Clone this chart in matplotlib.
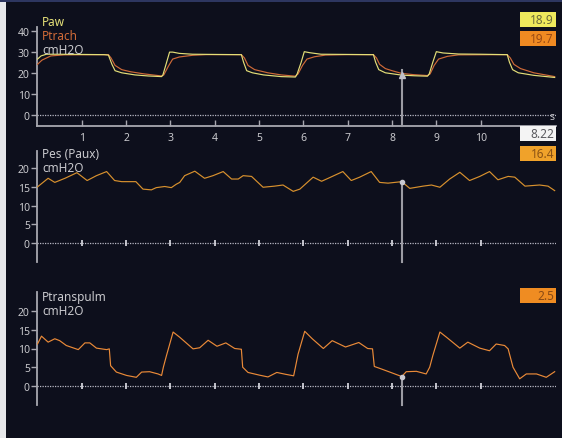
import matplotlib
matplotlib.use("Agg")
import matplotlib.pyplot as plt
from matplotlib.patches import Rectangle

plt.rcParams['font.family'] = ['Noto Sans', 'DejaVu Sans']

# ---- waveform samples (time in s, pressure in cmH2O) ----
paw_t = [0.0, 0.08, 0.2, 0.5, 1.0, 1.5, 1.6, 1.68, 1.75, 1.9, 2.2, 2.5, 2.8, 2.83, 2.9, 2.98, 3.05,
         3.2, 3.5, 4.0, 4.6, 4.65, 4.72, 4.85, 5.1, 5.5, 5.82, 5.86, 5.95, 6.02, 6.15, 6.4, 7.0,
         7.58, 7.63, 7.7, 7.85, 8.22, 8.5, 8.8, 8.84, 8.92, 9.0, 9.15, 9.5, 10.0, 10.6, 10.65,
         10.72, 10.85, 11.2, 11.67]
paw_v = [26.5, 28.0, 28.8, 28.8, 28.7, 28.6, 28.4, 24.0, 21.0, 20.0, 19.0, 18.5, 18.2, 19.0, 24.0,
         29.8, 29.8, 29.2, 28.8, 28.7, 28.6, 25.0, 21.0, 20.0, 19.0, 18.2, 18.0, 19.5, 25.0, 30.0,
         29.5, 28.8, 28.7, 28.6, 25.0, 21.5, 20.0, 18.9, 18.6, 18.4, 19.5, 25.0, 30.0, 29.4, 28.9,
         28.8, 28.6, 25.0, 21.5, 20.0, 18.8, 17.8]

ptrach_t = [0.0, 0.1, 0.3, 0.6, 1.6, 1.66, 1.75, 1.9, 2.1, 2.4, 2.8, 2.85, 2.95, 3.05, 3.2, 3.5,
            3.8, 4.6, 4.67, 4.75, 4.9, 5.2, 5.5, 5.82, 5.88, 5.98, 6.08, 6.25, 6.5, 7.0, 7.58,
            7.65, 7.72, 7.85, 8.0, 8.22, 8.5, 8.8, 8.86, 8.95, 9.05, 9.25, 9.5, 10.6, 10.67,
            10.75, 10.9, 11.2, 11.67]
ptrach_v = [24.0, 26.0, 28.0, 28.5, 28.6, 27.0, 23.5, 21.5, 20.5, 19.5, 18.5, 19.0, 23.0, 26.5,
            27.5, 28.3, 28.6, 28.6, 27.0, 23.5, 21.5, 20.0, 19.0, 18.4, 19.5, 23.5, 26.5, 27.6,
            28.4, 28.6, 28.6, 27.0, 24.0, 22.0, 21.0, 19.7, 19.1, 18.7, 19.5, 23.5, 26.5, 27.8,
            28.5, 28.6, 27.0, 24.0, 22.0, 20.0, 18.2]

pes_t = [0.0, 0.24, 0.39, 0.62, 0.89, 1.12, 1.33, 1.56, 1.74, 1.90, 2.22, 2.38, 2.57, 2.68, 2.87,
         3.02, 3.13, 3.21, 3.32, 3.55, 3.77, 3.96, 4.19, 4.38, 4.53, 4.64, 4.83, 5.09, 5.35, 5.54,
         5.77, 5.92, 6.22, 6.41, 6.56, 6.89, 7.08, 7.27, 7.53, 7.72, 7.91, 8.22, 8.40, 8.70,
         8.89, 9.08, 9.30, 9.53, 9.75, 9.98, 10.2, 10.39, 10.62, 10.77, 11.0, 11.33, 11.52, 11.67]
pes_v = [15.0, 17.3, 16.2, 17.3, 18.8, 16.7, 18.0, 19.1, 16.7, 16.4, 16.4, 14.4, 14.2, 14.8, 15.1,
         14.8, 15.7, 16.2, 18.0, 19.2, 17.3, 18.0, 19.1, 17.1, 17.1, 18.0, 17.8, 14.9, 15.2, 15.5,
         13.8, 14.4, 17.6, 16.5, 17.3, 19.1, 16.7, 17.6, 19.1, 16.2, 16.0, 16.4, 14.6, 15.2,
         15.5, 14.9, 17.1, 18.9, 16.7, 17.8, 19.1, 16.9, 17.8, 17.6, 15.2, 15.5, 15.2, 14.0]

ptp_t = [0.0, 0.09, 0.24, 0.39, 0.5, 0.65, 0.92, 1.07, 1.18, 1.33, 1.56, 1.62, 1.65, 1.78, 2.01,
         2.23, 2.35, 2.53, 2.72, 2.80, 2.84, 2.91, 3.06, 3.21, 3.51, 3.66, 3.85, 4.05, 4.25, 4.45,
         4.6, 4.63, 4.75, 5.0, 5.2, 5.4, 5.6, 5.78, 5.82, 5.88, 6.03, 6.2, 6.45, 6.65, 6.95,
         7.25, 7.45, 7.56, 7.6, 7.72, 7.95, 8.22, 8.32, 8.55, 8.77, 8.85, 8.92, 9.08, 9.23,
         9.53, 9.71, 9.98, 10.2, 10.35, 10.54, 10.62, 10.73, 10.88, 11.03, 11.26, 11.48, 11.67]
ptp_v = [11.2, 13.3, 11.7, 12.6, 12.1, 10.8, 9.7, 11.5, 11.5, 10.1, 9.7, 9.9, 5.4, 3.7, 2.8,
         2.3, 3.7, 3.8, 3.2, 2.8, 5.0, 8.1, 14.4, 13.0, 9.9, 10.2, 12.2, 10.6, 11.5, 10.0,
         9.8, 5.0, 3.6, 2.9, 2.4, 3.6, 3.1, 2.7, 5.0, 8.5, 14.6, 12.6, 10.0, 12.1, 10.4,
         11.6, 10.0, 9.9, 5.2, 4.7, 3.7, 2.5, 3.8, 3.9, 3.2, 5.0, 8.1, 14.4, 13.0,
         10.1, 11.7, 10.1, 9.4, 11.2, 10.8, 9.9, 5.0, 1.9, 3.2, 3.2, 2.3, 3.8]

sec_ticks = [1, 2, 3, 4, 5, 6, 7, 8, 9, 10]
paw_yticks = [0, 10, 20, 30, 40]
pes_yticks = [0, 5, 10, 15, 20]

cursor_t = 8.22
readout_paw = "18.9"
readout_ptrach = "19.7"
readout_time = "8.22"
readout_pes = "16.4"
readout_ptp = "2.5"
cursor_paw = 18.9
cursor_pes = 16.4
cursor_ptp = 2.5

# ---- styling ----
BG = '#0d0f1c'
AXIS = '#a8a8b0'
TXT = '#c8c8cc'
YEL = '#e4df78'
RED = '#cf6a38'
AMBER = '#d8912e'
ORANGE = '#ea8a38'
W, H = 562, 439
XMAX = 11.70
LW = 0.85

fig = plt.figure(figsize=(W / 100, H / 100), dpi=100, facecolor=BG)
fig.patches.append(Rectangle((0, 0), 6 / W, 1, transform=fig.transFigure,
                             facecolor='#e6e7ea', edgecolor='none', zorder=-5))
fig.patches.append(Rectangle((0, 1 - 3 / H), 1, 3 / H, transform=fig.transFigure,
                             facecolor='#2d3660', edgecolor='none', zorder=-5))


def make_axes(top_px, bottom_px, ylim):
    left = 37.5 / W
    width = 518.5 / W
    ax = fig.add_axes([left, 1 - bottom_px / H, width, (bottom_px - top_px) / H])
    ax.set_facecolor('none')
    ax.set_xlim(0, XMAX)
    ax.set_ylim(*ylim)
    for s in ('top', 'right', 'bottom'):
        ax.spines[s].set_visible(False)
    ax.spines['left'].set_color(AXIS)
    ax.spines['left'].set_linewidth(1.3)
    ax.tick_params(axis='y', direction='out', length=4, width=1, colors=AXIS,
                   labelcolor=TXT, labelsize=7.5, pad=1.5)
    ax.axhline(0, color='#b8b8c4', lw=0.9, ls=(0, (1, 1)), zorder=1)
    return ax


def label(y_px, text, color):
    fig.text(42 / W, 1 - y_px / H, text, color=color, fontsize=8.5, va='center',
             ha='left', zorder=2)


def readout(y_top_px, text, face, fg):
    x0, x1 = 520, 556
    h = 15
    fig.patches.append(Rectangle((x0 / W, 1 - (y_top_px + h) / H), (x1 - x0) / W, h / H,
                                 transform=fig.transFigure, facecolor=face,
                                 edgecolor='none', zorder=5))
    fig.text((x1 - 2) / W, 1 - (y_top_px + h / 2) / H, text, ha='right', va='center',
             fontsize=8.5, color=fg, zorder=6)


# ---- Paw / Ptrach ----
ax1 = make_axes(28, 127, (-5.2, 41.7))
ax1.spines['bottom'].set_visible(True)
ax1.spines['bottom'].set_color(AXIS)
ax1.spines['bottom'].set_linewidth(1.3)
ax1.set_yticks(paw_yticks)
ax1.set_xticks(sec_ticks)
ax1.set_xticklabels([str(s) for s in sec_ticks])
ax1.tick_params(axis='x', direction='in', length=4, width=1, colors=AXIS,
                labelcolor=TXT, labelsize=7.5, pad=4.5)
ax1.plot(ptrach_t, ptrach_v, color=RED, lw=LW, zorder=3)
ax1.plot(paw_t, paw_v, color=YEL, lw=LW, zorder=4)
ax1.plot([cursor_t, cursor_t], [cursor_paw + 2.5, -5.2], color='#9c9ca4', lw=1.5,
         zorder=5, clip_on=False)
ax1.plot([cursor_t], [cursor_paw], marker='^', ms=4, color='#c0c0c8', zorder=6)
ax1.text(11.67, -0.8, 's', color=TXT, fontsize=7.5, ha='right', va='center')
label(22, 'Paw', YEL)
label(37, 'Ptrach', RED)
label(50, 'cmH2O', TXT)

# ---- Pes ----
ax2 = make_axes(152, 263, (-5.1, 24.6))
ax2.set_xticks([])
ax2.set_yticks(pes_yticks)
ax2.plot(sec_ticks, [0] * len(sec_ticks), ls='none', marker='|', ms=4, mew=1.2,
         color='#e0e0e8', zorder=2)
ax2.plot(pes_t, pes_v, color=AMBER, lw=LW, zorder=3)
ax2.plot([cursor_t, cursor_t], [cursor_pes, -5.1], color='#9c9ca4', lw=1.5, zorder=5,
         clip_on=False)
ax2.plot([cursor_t], [cursor_pes], marker='o', ms=3, color='#c8c8d0', zorder=6)
label(155, 'Pes (Paux)', TXT)
label(169, 'cmH2O', TXT)

# ---- Ptranspulm ----
ax3 = make_axes(293, 406, (-5.1, 25.1))
ax3.set_xticks([])
ax3.set_yticks(pes_yticks)
ax3.plot(sec_ticks, [0] * len(sec_ticks), ls='none', marker='|', ms=4, mew=1.2,
         color='#e0e0e8', zorder=2)
ax3.plot(ptp_t, ptp_v, color=ORANGE, lw=LW, zorder=3)
ax3.plot([cursor_t, cursor_t], [cursor_ptp, -5.1], color='#9c9ca4', lw=1.5, zorder=5,
         clip_on=False)
ax3.plot([cursor_t], [cursor_ptp], marker='o', ms=3, color='#c8c8d0', zorder=6)
label(298, 'Ptranspulm', TXT)
label(312, 'cmH2O', TXT)

# ---- numeric readouts ----
readout(13, readout_paw, '#eee95c', '#6a6a3a')
readout(32, readout_ptrach, '#ef8a22', '#9a4a14')
readout(127, readout_time, '#f4f4f4', '#5a5a5e')
readout(147, readout_pes, '#f0a22a', '#8a5214')
readout(289, readout_ptp, '#ef8c22', '#8a4a14')

fig.savefig('out.png', dpi=100, facecolor=BG)
